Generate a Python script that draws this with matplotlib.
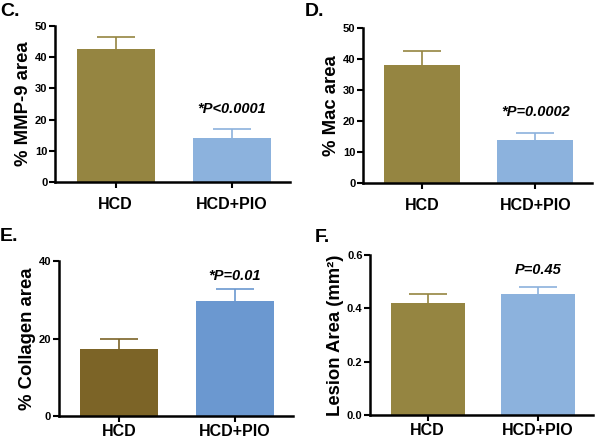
import matplotlib.pyplot as plt
import numpy as np

plt.rcParams['font.family'] = ['Liberation Sans', 'DejaVu Sans']

groups = ["HCD", "HCD+PIO"]

mmp9_mean = [42.5, 14.0]
mmp9_err = [4.0, 3.0]

mac_mean = [38.2, 13.8]
mac_err = [4.3, 2.5]

collagen_mean = [17.3, 29.6]
collagen_err = [2.5, 3.2]

lesion_mean = [0.420, 0.452]
lesion_err = [0.035, 0.026]

olive = '#958541'
light_blue = '#8cb2dd'
dark_olive = '#7c6427'
mid_blue = '#6b98d0'

panels = [
    # letter, means, errs, ylabel, ylim, yticks, p text, p y, colors, axes rect, letter pos, xpad
    ("C.", mmp9_mean, mmp9_err, "% MMP-9 area", 50, [0, 10, 20, 30, 40, 50],
     "*P<0.0001", 23.5, (olive, light_blue), [0.092, 0.584, 0.392, 0.357], (0.0, 0.973), 7),
    ("D.", mac_mean, mac_err, "% Mac area", 50, [0, 10, 20, 30, 40, 50],
     "*P=0.0002", 23.0, (olive, light_blue), [0.605, 0.582, 0.382, 0.354], (0.508, 0.973), 7),
    ("E.", collagen_mean, collagen_err, "% Collagen area", 40, [0, 20, 40],
     "*P=0.01", 36.2, (dark_olive, mid_blue), [0.098, 0.050, 0.390, 0.354], (0.0, 0.459), 1.5),
    ("F.", lesion_mean, lesion_err, "Lesion Area (mm²)", 0.6, [0.0, 0.2, 0.4, 0.6],
     "P=0.45", 0.545, (olive, light_blue), [0.617, 0.0525, 0.372, 0.3655], (0.525, 0.457), 1.5),
]

fig = plt.figure(figsize=(6, 4.38), dpi=100)

x = np.arange(len(groups))
for letter, means, errs, ylabel, ymax, yticks, ptext, py, colors, rect, lpos, xpad in panels:
    ax = fig.add_axes(rect)
    for i in range(len(groups)):
        ax.bar(x[i], means[i], 0.67, color=colors[i], zorder=2)
        # symmetric bar drawn behind the column so only the upper half shows
        ax.errorbar(x[i], means[i], yerr=errs[i], fmt='none',
                    ecolor=colors[i], elinewidth=1.2, capsize=14, capthick=1.2, zorder=1)
    ax.set_xlim(-0.52, 1.5)
    ax.set_ylim(0, ymax)
    ax.set_yticks(yticks)
    if ymax < 1:
        ax.set_yticklabels([f"{t:.1f}" for t in yticks])
    ax.set_xticks(x, groups)
    for lab in ax.get_xticklabels():
        lab.set_fontweight('bold')
        lab.set_fontsize(11.5)
    for lab in ax.get_yticklabels():
        lab.set_fontweight('bold')
        lab.set_fontsize(8)
    ax.set_ylabel(ylabel, fontsize=13.3, fontweight='bold', labelpad=2)
    ax.spines['top'].set_visible(False)
    ax.spines['right'].set_visible(False)
    ax.spines['left'].set_linewidth(1.8)
    ax.spines['bottom'].set_linewidth(1.8)
    ax.tick_params(axis='both', width=1.5, length=4, pad=1.5)
    ax.tick_params(axis='x', pad=xpad)
    ax.text(1, py, ptext, ha='center', va='center', fontsize=10.5,
            fontweight='bold', fontstyle='italic')
    fig.text(lpos[0], lpos[1], letter, fontsize=14, fontweight='bold',
             va='center', ha='left')

fig.savefig("out.png", dpi=100)
